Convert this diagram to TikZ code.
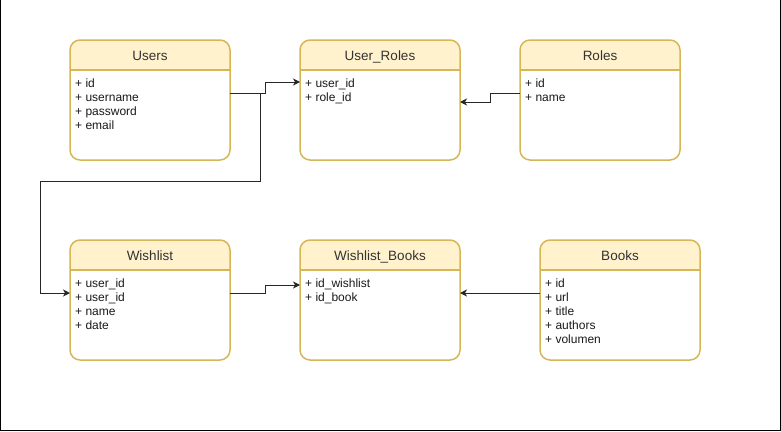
\documentclass[tikz,border=0pt]{standalone}
\usepackage{fontspec}
\setmainfont{Liberation Sans}
\usetikzlibrary{backgrounds}
\usetikzlibrary{arrows.meta,calc}
\usetikzlibrary{positioning}

\definecolor{hdrfill}{HTML}{FFF2CC}
\definecolor{hdrline}{HTML}{D6B656}
\definecolor{txtgray}{HTML}{333333}

% entity box: #1 name, #2 centre, #3 title, #4 attributes
\newcommand{\erentity}[4]{%
	\node[erbody] (#1) at (#2) {};
	\begin{scope}[on background layer]
		\fill[hdrfill] ($(#1.north west)+(0,30)$) [rounded corners=10pt] -- (#1.north west)
			-- (#1.north east) [sharp corners] -- ($(#1.north east)+(0,30)$) -- cycle;
	\end{scope}
	\draw[hdrline, line width=1.5pt] ($(#1.north west)+(0,30)$) -- ($(#1.north east)+(0,30)$);
	\node[ertitle] (#1-title) at ($(#1.north)+(0,17)$) {#3};
	\foreach \a [count=\i] in {#4} {
		\node[erattr] (#1-a\i) at ($(#1.north west)+(5,30+14*\i)$) {+ \a};
	}
}

\begin{document}
\begin{tikzpicture}[x=1pt, y=-1pt,
		erbody/.style={draw=hdrline, line width=1.5pt, rounded corners=10pt,
			minimum width=160pt, minimum height=120pt, inner sep=0pt, outer sep=0pt},
		ertitle/.style={font=\fontsize{13.5}{16}\selectfont, text=txtgray, inner sep=0pt,
			text height=9.7pt, text depth=2.9pt},
		erattr/.style={anchor=west, font=\fontsize{12}{14}\selectfont, text=black!90, inner sep=0pt,
			text height=8.6pt, text depth=2.5pt},
		link/.style={draw=black!85, line width=1pt, -{Stealth[length=7pt, width=7pt, inset=2pt]}}]

	% === canvas ===
	\useasboundingbox (0,0) rectangle (781,431);
	\draw[line width=1pt] (0.5,0) -- (0.5,430.5) -- (780.5,430.5) -- (780.5,0);

	% === Entities ===
	\erentity{users}{150,100}{Users}{id, username, password, email}
	\erentity{userroles}{380,100}{User\_Roles}{user\_id, role\_id}
	\erentity{roles}{600,100}{Roles}{id, name}
	\erentity{wishlist}{150,300}{Wishlist}{user\_id, user\_id, name, date}
	\erentity{wishbooks}{380,300}{Wishlist\_Books}{id\_wishlist, id\_book}
	\erentity{books}{620,300}{Books}{id, url, title, authors, volumen}

	% === Relations ===
	\coordinate (split) at ($(users.north east)+(30,53)$);
	\coordinate (turn) at (40,181);
	\draw[link] ($(users.north east)+(0,53)$) -- ++(35,0) |- ($(userroles.north west)+(0,42)$);
	\draw[link] (split) |- (turn) |- ($(wishlist.north west)+(0,53)$);
	\draw[link] ($(roles.north west)+(0,53)$) -- ++(-30,0) |- ($(userroles.north east)+(0,62)$);
	\draw[link] ($(wishlist.north east)+(0,53)$) -- ++(35,0) |- ($(wishbooks.north west)+(0,45)$);
	\draw[link] ($(books.north west)+(0,53)$) -- ($(wishbooks.north east)+(0,53)$);
\end{tikzpicture}
\end{document}
